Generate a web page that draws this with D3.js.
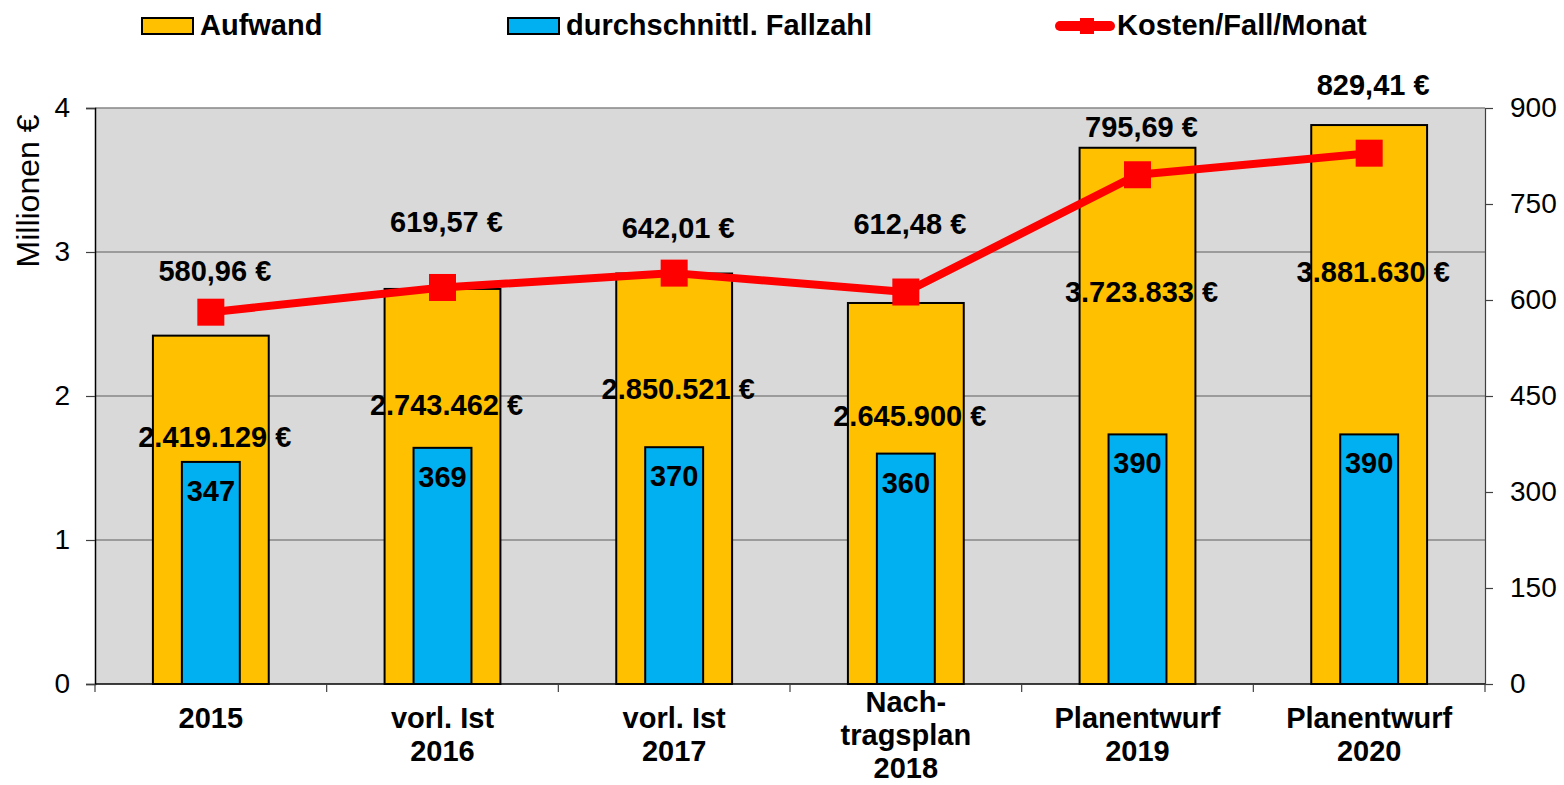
<!DOCTYPE html>
<html>
<head>
<meta charset="utf-8">
<script src="https://cdn.jsdelivr.net/npm/d3@7"></script>
<style>
  body { margin: 0; background: #fff; }
  svg text { font-family: "Liberation Sans", Arial, sans-serif; fill: #000; }
</style>
</head>
<body>
<div id="chart"></div>
<script>
// Daten
const kategorien = ["2015", "vorl. Ist\n2016", "vorl. Ist\n2017", "Nach-\ntragsplan\n2018", "Planentwurf\n2019", "Planentwurf\n2020"];
const aufwand = [2419129, 2743462, 2850521, 2645900, 3723833, 3881630];
const fallzahl = [347, 369, 370, 360, 390, 390];
const kostenProFall = [580.96, 619.57, 642.01, 612.48, 795.69, 829.41];
const linksTicks = [0, 1, 2, 3, 4];
const rechtsTicks = [0, 150, 300, 450, 600, 750, 900];

// Beschriftungen wurden im Original von Hand verschoben
const kostenLabelDy = [-31, -55, -35, -58, -38, -58];
const aufwandLabelDy = [111, 126, 125, 123, 154, 157];

const gelb = "#FFC000", blau = "#00B0F0", rot = "#FF0000";

const de = d3.formatLocale({ decimal: ",", thousands: ".", grouping: [3], currency: ["", " €"] });
const fmtEuro = de.format(",.0f");
const fmtKosten = de.format(",.2f");

const W = 1564, H = 785;
const plot = { left: 95, right: 1485, top: 108, bottom: 684 };

const svg = d3.select("#chart").append("svg")
    .attr("width", W)
    .attr("height", H);

const x = d3.scaleBand()
    .domain(kategorien)
    .range([plot.left, plot.right])
    .padding(0);

const yL = d3.scaleLinear().domain([0, 4]).range([plot.bottom, plot.top]);
const yR = d3.scaleLinear().domain([0, 900]).range([plot.bottom, plot.top]);
const bw = x.bandwidth();

// Hintergrund
svg.append("rect")
    .attr("x", plot.left).attr("y", plot.top)
    .attr("width", plot.right - plot.left)
    .attr("height", plot.bottom - plot.top)
    .attr("fill", "#D9D9D9");

// Gitternetz
svg.append("g").selectAll("line")
    .data(linksTicks.filter(d => d > 0))
    .enter().append("line")
    .attr("x1", plot.left).attr("x2", plot.right)
    .attr("y1", d => yL(d)).attr("y2", d => yL(d))
    .attr("stroke", "#868686")
    .attr("stroke-width", 1.5);

// Achsen
const axL = svg.append("g")
    .attr("transform", `translate(${plot.left},0)`)
    .call(d3.axisLeft(yL).tickValues(linksTicks).tickSize(9).tickPadding(16).tickFormat(d3.format("d")));
axL.select(".domain").attr("stroke", "#000").attr("stroke-width", 1.5);
axL.selectAll(".tick line").attr("stroke", "#404040").attr("stroke-width", 1.2);
axL.selectAll("text").style("font-size", "28px").attr("fill", "#000");

const axR = svg.append("g")
    .attr("transform", `translate(${plot.right},0)`)
    .call(d3.axisRight(yR).tickValues(rechtsTicks).tickSize(8).tickPadding(17).tickFormat(d3.format("d")));
axR.select(".domain").attr("stroke", "#404040").attr("stroke-width", 1.2);
axR.selectAll(".tick line").attr("stroke", "#404040").attr("stroke-width", 1.2);
axR.selectAll("text").style("font-size", "28px").attr("fill", "#000");

svg.append("text")
    .attr("transform", "translate(39,191) rotate(-90)")
    .attr("text-anchor", "middle")
    .style("font-size", "32px")
    .text("Millionen €");

// Balken Aufwand
svg.append("g").selectAll("rect")
    .data(kategorien)
    .enter().append("rect")
    .attr("x", d => x(d) + bw * 0.25)
    .attr("y", (d, i) => yL(aufwand[i] / 1e6))
    .attr("width", bw * 0.5)
    .attr("height", (d, i) => yL(0) - yL(aufwand[i] / 1e6))
    .attr("fill", gelb)
    .attr("stroke", "#000")
    .attr("stroke-width", 2);

// Balken Fallzahl
svg.append("g").selectAll("rect")
    .data(kategorien)
    .enter().append("rect")
    .attr("x", d => x(d) + bw * 0.375)
    .attr("y", (d, i) => yR(fallzahl[i]))
    .attr("width", bw * 0.25)
    .attr("height", (d, i) => yR(0) - yR(fallzahl[i]))
    .attr("fill", blau)
    .attr("stroke", "#000")
    .attr("stroke-width", 2);

// Kategorie-Achse
svg.append("line")
    .attr("x1", plot.left).attr("x2", plot.right)
    .attr("y1", plot.bottom).attr("y2", plot.bottom)
    .attr("stroke", "#000").attr("stroke-width", 1.5);

const grenzen = kategorien.map(d => x(d)).concat([plot.right]);
svg.append("g").selectAll("line")
    .data(grenzen)
    .enter().append("line")
    .attr("x1", d => d).attr("x2", d => d)
    .attr("y1", plot.bottom).attr("y2", plot.bottom + 8)
    .attr("stroke", "#404040").attr("stroke-width", 1.2);

const katText = svg.append("g").selectAll("text")
    .data(kategorien)
    .enter().append("text")
    .attr("text-anchor", "middle")
    .style("font-size", "29px")
    .style("font-weight", "bold")
    .attr("y", d => 728 - Math.max(0, d.split("\n").length - 2) * 16);
katText.each(function(d) {
    const t = d3.select(this);
    d.split("\n").forEach((zeile, j) => {
        t.append("tspan")
            .attr("x", x(d) + bw / 2)
            .attr("dy", j === 0 ? 0 : 33)
            .text(zeile);
    });
});

// Linie Kosten/Fall/Monat
const linie = d3.line()
    .x((d, i) => x(kategorien[i]) + bw / 2)
    .y(d => yR(d));

svg.append("path")
    .datum(kostenProFall)
    .attr("d", linie)
    .attr("fill", "none")
    .attr("stroke", rot)
    .attr("stroke-width", 8)
    .attr("stroke-linejoin", "round");

svg.append("g").selectAll("rect")
    .data(kostenProFall)
    .enter().append("rect")
    .attr("x", (d, i) => x(kategorien[i]) + bw / 2 - 13.5)
    .attr("y", d => yR(d) - 13.5)
    .attr("width", 27).attr("height", 27)
    .attr("fill", rot);

// Datenbeschriftungen
const fett = sel => sel.style("font-size", "29px").style("font-weight", "bold").attr("text-anchor", "middle");

svg.append("g").selectAll("text")
    .data(kostenProFall)
    .enter().append("text")
    .call(fett)
    .attr("x", (d, i) => x(kategorien[i]) + bw / 2 + 4)
    .attr("y", (d, i) => yR(d) + kostenLabelDy[i])
    .text(d => fmtKosten(d) + " €");

svg.append("g").selectAll("text")
    .data(aufwand)
    .enter().append("text")
    .call(fett)
    .attr("x", (d, i) => x(kategorien[i]) + bw / 2 + 4)
    .attr("y", (d, i) => yL(d / 1e6) + aufwandLabelDy[i])
    .text(d => fmtEuro(d) + " €");

svg.append("g").selectAll("text")
    .data(fallzahl)
    .enter().append("text")
    .call(fett)
    .attr("x", (d, i) => x(kategorien[i]) + bw / 2)
    .attr("y", d => yR(d) + 39)
    .text(d => d);

// Legende
const leg = svg.append("g");
leg.append("rect").attr("x", 142).attr("y", 18).attr("width", 51).attr("height", 16)
    .attr("fill", gelb).attr("stroke", "#000").attr("stroke-width", 2);
leg.append("text").attr("x", 200).attr("y", 35)
    .style("font-size", "29px").style("font-weight", "bold").text("Aufwand");

leg.append("rect").attr("x", 508).attr("y", 18).attr("width", 51).attr("height", 16)
    .attr("fill", blau).attr("stroke", "#000").attr("stroke-width", 2);
leg.append("text").attr("x", 566).attr("y", 35)
    .style("font-size", "29px").style("font-weight", "bold").text("durchschnittl. Fallzahl");

leg.append("line").attr("x1", 1060).attr("x2", 1110).attr("y1", 26).attr("y2", 26)
    .attr("stroke", rot).attr("stroke-width", 10).attr("stroke-linecap", "round");
leg.append("rect").attr("x", 1080).attr("y", 18).attr("width", 14).attr("height", 16)
    .attr("fill", rot);
leg.append("text").attr("x", 1117).attr("y", 35)
    .style("font-size", "29px").style("font-weight", "bold").text("Kosten/Fall/Monat");
</script>
</body>
</html>
